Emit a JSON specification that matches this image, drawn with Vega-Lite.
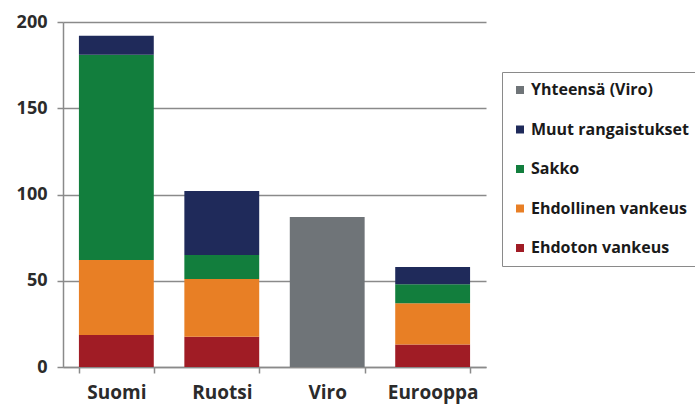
{
  "$schema": "https://vega.github.io/schema/vega-lite/v6.json",
  "width": 423,
  "height": 345,
  "autosize": "none",
  "padding": {"left": 63, "top": 22, "right": 209, "bottom": 38},
  "background": "white",
  "config": {
    "view": {"stroke": null},
    "font": "Open Sans"
  },
  "data": {
    "values": [
      {"maa": "Suomi", "laji": "Ehdoton vankeus", "arvo": 18.5},
      {"maa": "Suomi", "laji": "Ehdollinen vankeus", "arvo": 43.5},
      {"maa": "Suomi", "laji": "Sakko", "arvo": 119},
      {"maa": "Suomi", "laji": "Muut rangaistukset", "arvo": 11},
      {"maa": "Ruotsi", "laji": "Ehdoton vankeus", "arvo": 17.5},
      {"maa": "Ruotsi", "laji": "Ehdollinen vankeus", "arvo": 33.5},
      {"maa": "Ruotsi", "laji": "Sakko", "arvo": 14},
      {"maa": "Ruotsi", "laji": "Muut rangaistukset", "arvo": 37},
      {"maa": "Viro", "laji": "Yhteensä (Viro)", "arvo": 87},
      {"maa": "Eurooppa", "laji": "Ehdoton vankeus", "arvo": 13},
      {"maa": "Eurooppa", "laji": "Ehdollinen vankeus", "arvo": 24},
      {"maa": "Eurooppa", "laji": "Sakko", "arvo": 11},
      {"maa": "Eurooppa", "laji": "Muut rangaistukset", "arvo": 10}
    ]
  },
  "transform": [
    {"calculate": "indexof(['Ehdoton vankeus','Ehdollinen vankeus','Sakko','Muut rangaistukset','Yhteensä (Viro)'], datum.laji)", "as": "kerros"}
  ],
  "mark": {"type": "bar"},
  "encoding": {
    "x": {
      "field": "maa",
      "type": "nominal",
      "sort": ["Suomi", "Ruotsi", "Viro", "Eurooppa"],
      "scale": {"paddingInner": 0.29, "paddingOuter": 0.151},
      "axis": {
        "title": null,
        "labelAngle": 0,
        "labelFontSize": 19,
        "labelFontWeight": 700,
        "labelColor": "#2b2b2b",
        "labelPadding": 10,
        "domainColor": "#8a8a8a",
        "domainWidth": 1.5,
        "tickColor": "#8a8a8a",
        "tickWidth": 1.5,
        "tickSize": 6,
        "tickBand": "extent"
      }
    },
    "y": {
      "field": "arvo",
      "type": "quantitative",
      "stack": "zero",
      "scale": {"domain": [0, 200], "nice": false},
      "axis": {
        "title": null,
        "values": [0, 50, 100, 150, 200],
        "labelFontSize": 18,
        "labelFontWeight": 700,
        "labelColor": "#2b2b2b",
        "labelPadding": 10,
        "domainColor": "#8a8a8a",
        "domainWidth": 1.5,
        "tickColor": "#8a8a8a",
        "tickWidth": 1.5,
        "tickSize": 6,
        "gridColor": "#8a8a8a",
        "gridWidth": 1.5,
        "gridOpacity": 1
      }
    },
    "order": {"field": "kerros", "type": "quantitative"},
    "color": {
      "field": "laji",
      "type": "nominal",
      "scale": {
        "domain": ["Yhteensä (Viro)", "Muut rangaistukset", "Sakko", "Ehdollinen vankeus", "Ehdoton vankeus"],
        "range": ["#6f7478", "#1f2a5a", "#127e3d", "#e87f25", "#a01c25"]
      },
      "legend": {
        "title": null,
        "orient": "none",
        "legendX": 439,
        "legendY": 50,
        "strokeColor": "#8a8a8a",
        "padding": 10,
        "symbolType": "square",
        "symbolSize": 64,
        "symbolStrokeWidth": 0,
        "labelFontSize": 16,
        "labelFontWeight": 700,
        "labelColor": "#1a1a1a",
        "labelOffset": 3,
        "labelLimit": 300,
        "rowPadding": 23.5
      }
    }
  }
}
